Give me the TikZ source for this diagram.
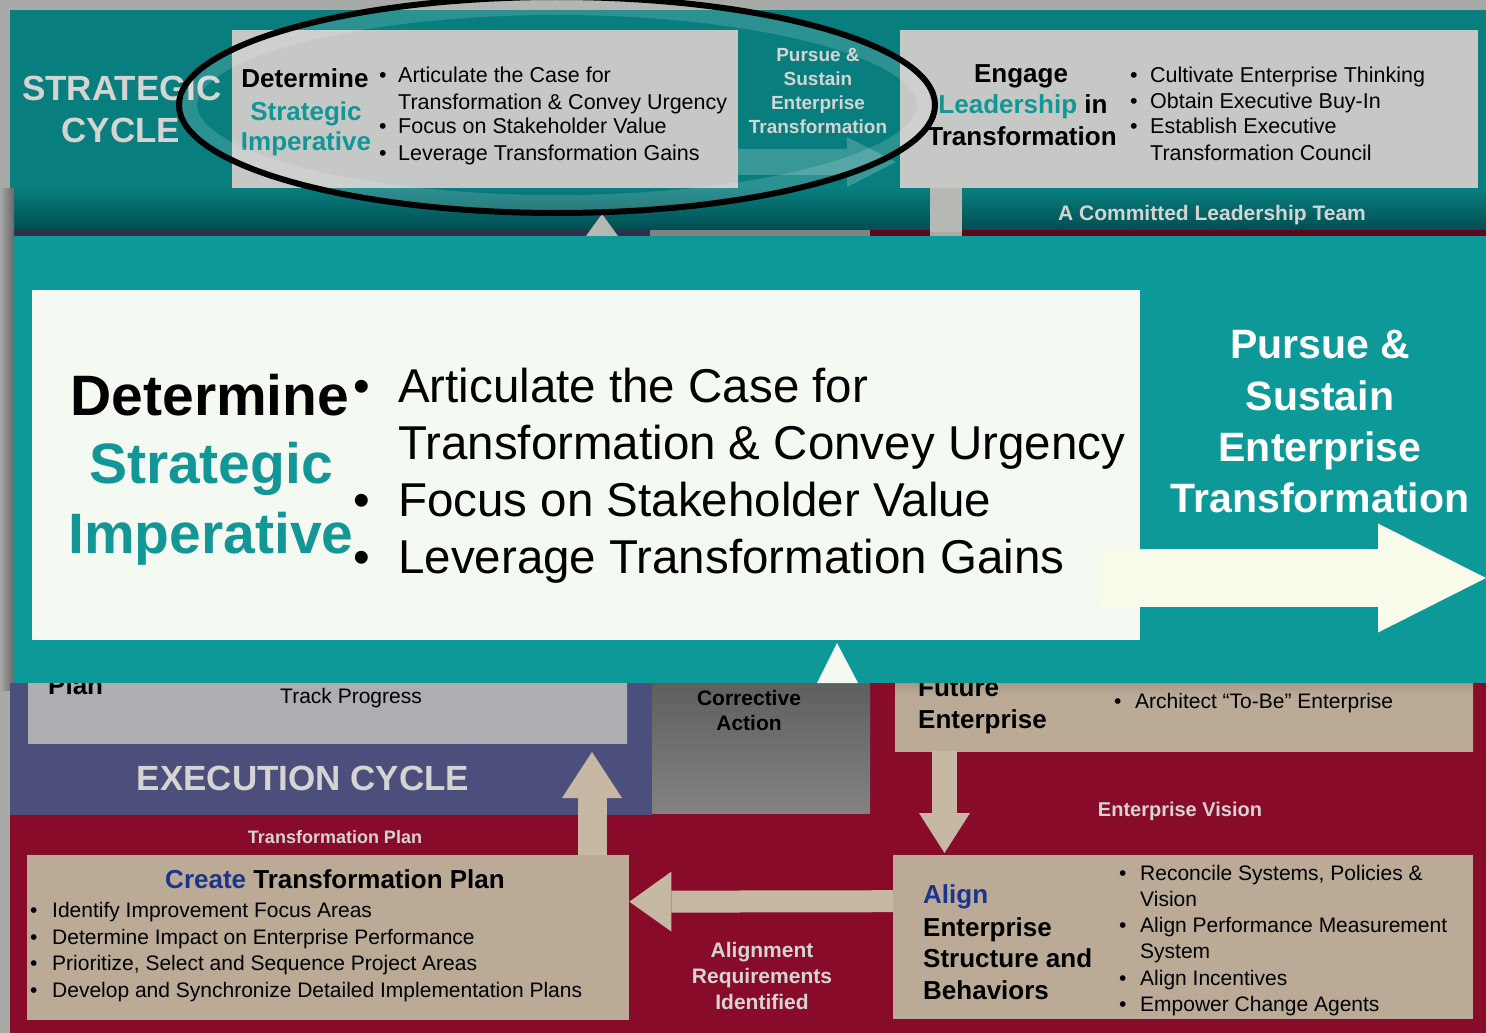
\documentclass[tikz,border=0pt]{standalone}
\usepackage{fontspec}
\setmainfont{Liberation Sans}
\usepackage{tikz}
\usetikzlibrary{arrows.meta}
\definecolor{bggray}{RGB}{168,170,168}
\definecolor{topteal}{RGB}{8,126,126}
\definecolor{darkteal}{RGB}{0,78,82}
\definecolor{panelteal}{RGB}{14,153,153}
\definecolor{textteal}{RGB}{18,150,150}
\definecolor{boxgray}{RGB}{198,200,198}
\definecolor{paper}{RGB}{244,250,241}
\definecolor{ivory}{RGB}{249,252,234}
\definecolor{maroon}{RGB}{136,12,42}
\definecolor{navy}{RGB}{76,79,124}
\definecolor{tanbox}{RGB}{186,170,150}
\definecolor{tanarrow}{RGB}{198,184,162}
\definecolor{trackgray}{RGB}{174,174,178}
\definecolor{corrgray}{RGB}{130,130,132}
\definecolor{lighttext}{RGB}{212,212,210}
\definecolor{titleblue}{RGB}{28,52,140}
\definecolor{sepgray}{RGB}{182,184,180}
\newcommand{\txtsize}[1]{\fontsize{#1}{#1}\selectfont}

\begin{document}
\begin{tikzpicture}[x=1pt,y=-1pt,
  txt/.style={inner sep=0pt,anchor=base},
  txtl/.style={inner sep=0pt,anchor=base west},
  panelbox/.style={inner sep=0pt,anchor=north west,minimum width=#1},
  blockarrow/.style={tanarrow,line width=#1}]
\useasboundingbox (0,0) rectangle (1486,1033);
\fill[bggray] (0,0) rectangle (1486,1033);

\fill[topteal] (10,10) rectangle (1486,190);
\fill[boxgray] (232,30) rectangle (738,188);
\fill[boxgray] (900,30) rectangle (1478,188);
\coordinate (smalltail) at (738,162);
\coordinate (smalltip) at (896,162);
\draw[white,opacity=0.2,line width=26pt,-{Triangle[width=50pt,length=49pt,line width=0pt]}] (smalltail) -- (smalltip);
\shade[top color=topteal,bottom color=darkteal] (10,188) rectangle (930,230);
\fill[sepgray] (930,188) rectangle (962,232);
\shade[top color=topteal,bottom color=darkteal] (962,190) rectangle (1486,230);
\fill[navy!60!black] (14,230) rectangle (650,236);
\fill[corrgray] (650,230) rectangle (870,236);
\fill[maroon!70!black] (870,230) rectangle (930,236);
\fill[maroon!70!black] (962,230) rectangle (1486,236);
\fill[sepgray] (586,236) -- (602,214) -- (618,236) -- cycle;
\shade[left color=bggray,right color=gray!80!black] (0,188) rectangle (14,690);

\node[txt,font=\txtsize{35}\bfseries,lighttext] (stratA) at (122,100) {STRATEGIC};
\node[txt,font=\txtsize{35}\bfseries,lighttext] (stratB) at (121,142) {CYCLE};
\node[txt,font=\txtsize{26}\bfseries] (detS) at (305,88) {Determine};
\node[txt,font=\txtsize{26}\bfseries,textteal] (strS) at (306,120) {Strategic};
\node[txt,font=\txtsize{26}\bfseries,textteal] (impS) at (306,150) {Imperative};
\node[txtl,font=\txtsize{21.5}] (bulS1) at (379,82) {•};
\node[txtl,font=\txtsize{21.5}] (bulS3) at (379,133) {•};
\node[txtl,font=\txtsize{21.5}] (bulS4) at (379,160) {•};
\node[txtl,font=\txtsize{21.5}] (itemS1) at (398,82) {Articulate the Case for};
\node[txtl,font=\txtsize{21.5}] (itemS2) at (398,109) {Transformation \& Convey Urgency};
\node[txtl,font=\txtsize{21.5}] (itemS3) at (398,133) {Focus on Stakeholder Value};
\node[txtl,font=\txtsize{21.5}] (itemS4) at (398,160) {Leverage Transformation Gains};
\node[txt,font=\txtsize{19}\bfseries,lighttext] (purS1) at (818,62) {Pursue \&};
\node[txt,font=\txtsize{19}\bfseries,lighttext] (purS2) at (818,85) {Sustain};
\node[txt,font=\txtsize{19}\bfseries,lighttext] (purS3) at (818,110) {Enterprise};
\node[txt,font=\txtsize{19}\bfseries,lighttext] (purS4) at (818,133) {Transformation};
\node[txt,font=\txtsize{26}\bfseries] (engA) at (1021,82) {Engage};
\node[txt,font=\txtsize{26}\bfseries] (engB) at (1023,113) {{\color{textteal}Leadership} in};
\node[txt,font=\txtsize{26}\bfseries] (engC) at (1022,145) {Transformation};
\node[txtl,font=\txtsize{21.5}] (bulE1) at (1130,82) {•};
\node[txtl,font=\txtsize{21.5}] (bulE2) at (1130,108) {•};
\node[txtl,font=\txtsize{21.5}] (bulE3) at (1130,133) {•};
\node[txtl,font=\txtsize{21.5}] (itemE1) at (1150,82) {Cultivate Enterprise Thinking};
\node[txtl,font=\txtsize{21.5}] (itemE2) at (1150,108) {Obtain Executive Buy-In};
\node[txtl,font=\txtsize{21.5}] (itemE3) at (1150,133) {Establish Executive};
\node[txtl,font=\txtsize{21.5}] (itemE4) at (1150,160) {Transformation Council};
\node[txt,font=\txtsize{21}\bfseries,lighttext] (team) at (1212,220) {A Committed Leadership Team};

\draw[white,opacity=0.15,line width=16pt] (557,105) ellipse [x radius=368, y radius=98];
\draw[black,line width=6pt] (557,105) ellipse [x radius=378, y radius=108];

\fill[maroon] (10,683) rectangle (1486,1033);
\fill[navy] (10,683) rectangle (652,815);
\node[panelbox=599pt,minimum height=123pt,top color=gray!60!black,bottom color=trackgray,middle color=trackgray] (trackbox) at (28,620) {};
\node[panelbox=218pt,minimum height=193pt,top color=corrgray!60!black,bottom color=corrgray] (corrbox) at (652,620) {};
\node[panelbox=578pt,minimum height=111pt,top color=tanbox!60!black,bottom color=tanbox,middle color=tanbox] (futurebox) at (895,640) {};
\node[panelbox=602pt,minimum height=165pt,fill=tanbox] (createbox) at (27,855) {};
\node[panelbox=580pt,minimum height=164pt,fill=tanbox] (alignbox) at (893,855) {};

\coordinate (uptip) at (592,752);
\coordinate (downx) at (944.5,0);
\draw[blockarrow=29pt,-{Triangle[width=60pt,length=46pt,line width=0pt]}] (createbox.north -| uptip) -- (uptip);
\draw[blockarrow=25pt,-{Triangle[width=51pt,length=40pt,line width=0pt]}] (futurebox.south -| downx) -- ([yshift=2pt]alignbox.north -| downx);
\draw[blockarrow=22pt,-{Triangle[width=60pt,length=42pt,line width=0pt]}] ([yshift=36pt]alignbox.west) -- ([yshift=36pt]createbox.east);

\node[txtl,font=\txtsize{26}\bfseries] (planA) at (48,694) {Plan};
\node[txt,font=\txtsize{21}] (track) at (351,703) {Track Progress};
\node[txt,font=\txtsize{21}\bfseries] (corrA) at (749,705) {Corrective};
\node[txt,font=\txtsize{21}\bfseries] (corrB) at (749,730) {Action};
\node[txtl,font=\txtsize{26}\bfseries] (futA) at (918,696) {Future};
\node[txtl,font=\txtsize{26}\bfseries] (futB) at (918,728) {Enterprise};
\node[txtl,font=\txtsize{21}] (bulF) at (1114,708) {•};
\node[txtl,font=\txtsize{21}] (itemF) at (1135,708) {Architect “To-Be” Enterprise};
\node[txt,font=\txtsize{35}\bfseries,lighttext] (execT) at (303,790) {EXECUTION CYCLE};
\node[txt,font=\txtsize{18}\bfseries,lighttext] (planT) at (335,843) {Transformation Plan};
\node[txt,font=\txtsize{20}\bfseries,lighttext] (visionT) at (1180,816) {Enterprise Vision};
\node[txt,font=\txtsize{26}\bfseries] (createT) at (335,888) {{\color{titleblue}Create} Transformation Plan};
\node[txtl,font=\txtsize{21}] (bulC1) at (30,917) {•};
\node[txtl,font=\txtsize{21}] (bulC2) at (30,944) {•};
\node[txtl,font=\txtsize{21}] (bulC3) at (30,970) {•};
\node[txtl,font=\txtsize{21}] (bulC4) at (30,997) {•};
\node[txtl,font=\txtsize{21}] (itemC1) at (52,917) {Identify Improvement Focus Areas};
\node[txtl,font=\txtsize{21}] (itemC2) at (52,944) {Determine Impact on Enterprise Performance};
\node[txtl,font=\txtsize{21}] (itemC3) at (52,970) {Prioritize, Select and Sequence Project Areas};
\node[txtl,font=\txtsize{21}] (itemC4) at (52,997) {Develop and Synchronize Detailed Implementation Plans};
\node[txt,font=\txtsize{21}\bfseries,lighttext] (reqA) at (762,957) {Alignment};
\node[txt,font=\txtsize{21}\bfseries,lighttext] (reqB) at (762,983) {Requirements};
\node[txt,font=\txtsize{21}\bfseries,lighttext] (reqC) at (762,1009) {Identified};
\node[txtl,font=\txtsize{26}\bfseries,titleblue] (alignA) at (923,903) {Align};
\node[txtl,font=\txtsize{26}\bfseries] (alignB) at (923,936) {Enterprise};
\node[txtl,font=\txtsize{26}\bfseries] (alignC) at (923,967) {Structure and};
\node[txtl,font=\txtsize{26}\bfseries] (alignD) at (923,999) {Behaviors};
\node[txtl,font=\txtsize{21}] (bulA1) at (1119,880) {•};
\node[txtl,font=\txtsize{21}] (bulA3) at (1119,932) {•};
\node[txtl,font=\txtsize{21}] (bulA5) at (1119,985) {•};
\node[txtl,font=\txtsize{21}] (bulA6) at (1119,1011) {•};
\node[txtl,font=\txtsize{21}] (itemA1) at (1140,880) {Reconcile Systems, Policies \&};
\node[txtl,font=\txtsize{21}] (itemA2) at (1140,906) {Vision};
\node[txtl,font=\txtsize{21}] (itemA3) at (1140,932) {Align Performance Measurement};
\node[txtl,font=\txtsize{21}] (itemA4) at (1140,958) {System};
\node[txtl,font=\txtsize{21}] (itemA5) at (1140,985) {Align Incentives};
\node[txtl,font=\txtsize{21}] (itemA6) at (1140,1011) {Empower Change Agents};

\node[panelbox=1472pt,minimum height=447pt,fill=panelteal] (panel) at (14,236) {};
\node[panelbox=1108pt,minimum height=350pt,fill=paper] (whitebox) at (32,290) {};
\coordinate (bigtail) at (1100,578);
\coordinate (bigtip) at (1486,578);
\draw[ivory,line width=58pt,-{Triangle[width=109pt,length=108pt,line width=0pt]}] (bigtail) -- (bigtip);
\fill[paper] (817,683) -- (837,643) -- (858,683) -- cycle;

\node[txt,font=\txtsize{57}\bfseries] (detB) at (210,415) {Determine};
\node[txt,font=\txtsize{57}\bfseries,textteal] (strB) at (211,483) {Strategic};
\node[txt,font=\txtsize{57}\bfseries,textteal] (impB) at (211,553) {Imperative};
\node[txtl,font=\txtsize{47.5}] (bulB1) at (353,402) {•};
\node[txtl,font=\txtsize{47.5}] (bulB3) at (353,516) {•};
\node[txtl,font=\txtsize{47.5}] (bulB4) at (353,573) {•};
\node[txtl,font=\txtsize{47.5}] (itemB1) at (398,402) {Articulate the Case for};
\node[txtl,font=\txtsize{47.5}] (itemB2) at (398,459) {Transformation \& Convey Urgency};
\node[txtl,font=\txtsize{47.5}] (itemB3) at (398,516) {Focus on Stakeholder Value};
\node[txtl,font=\txtsize{47.5}] (itemB4) at (398,573) {Leverage Transformation Gains};
\node[txt,font=\txtsize{41}\bfseries,white] (purB1) at (1320,358) {Pursue \&};
\node[txt,font=\txtsize{41}\bfseries,white] (purB2) at (1320,410) {Sustain};
\node[txt,font=\txtsize{41}\bfseries,white] (purB3) at (1320,461) {Enterprise};
\node[txt,font=\txtsize{41}\bfseries,white] (purB4) at (1320,512) {Transformation};
\end{tikzpicture}
\end{document}
